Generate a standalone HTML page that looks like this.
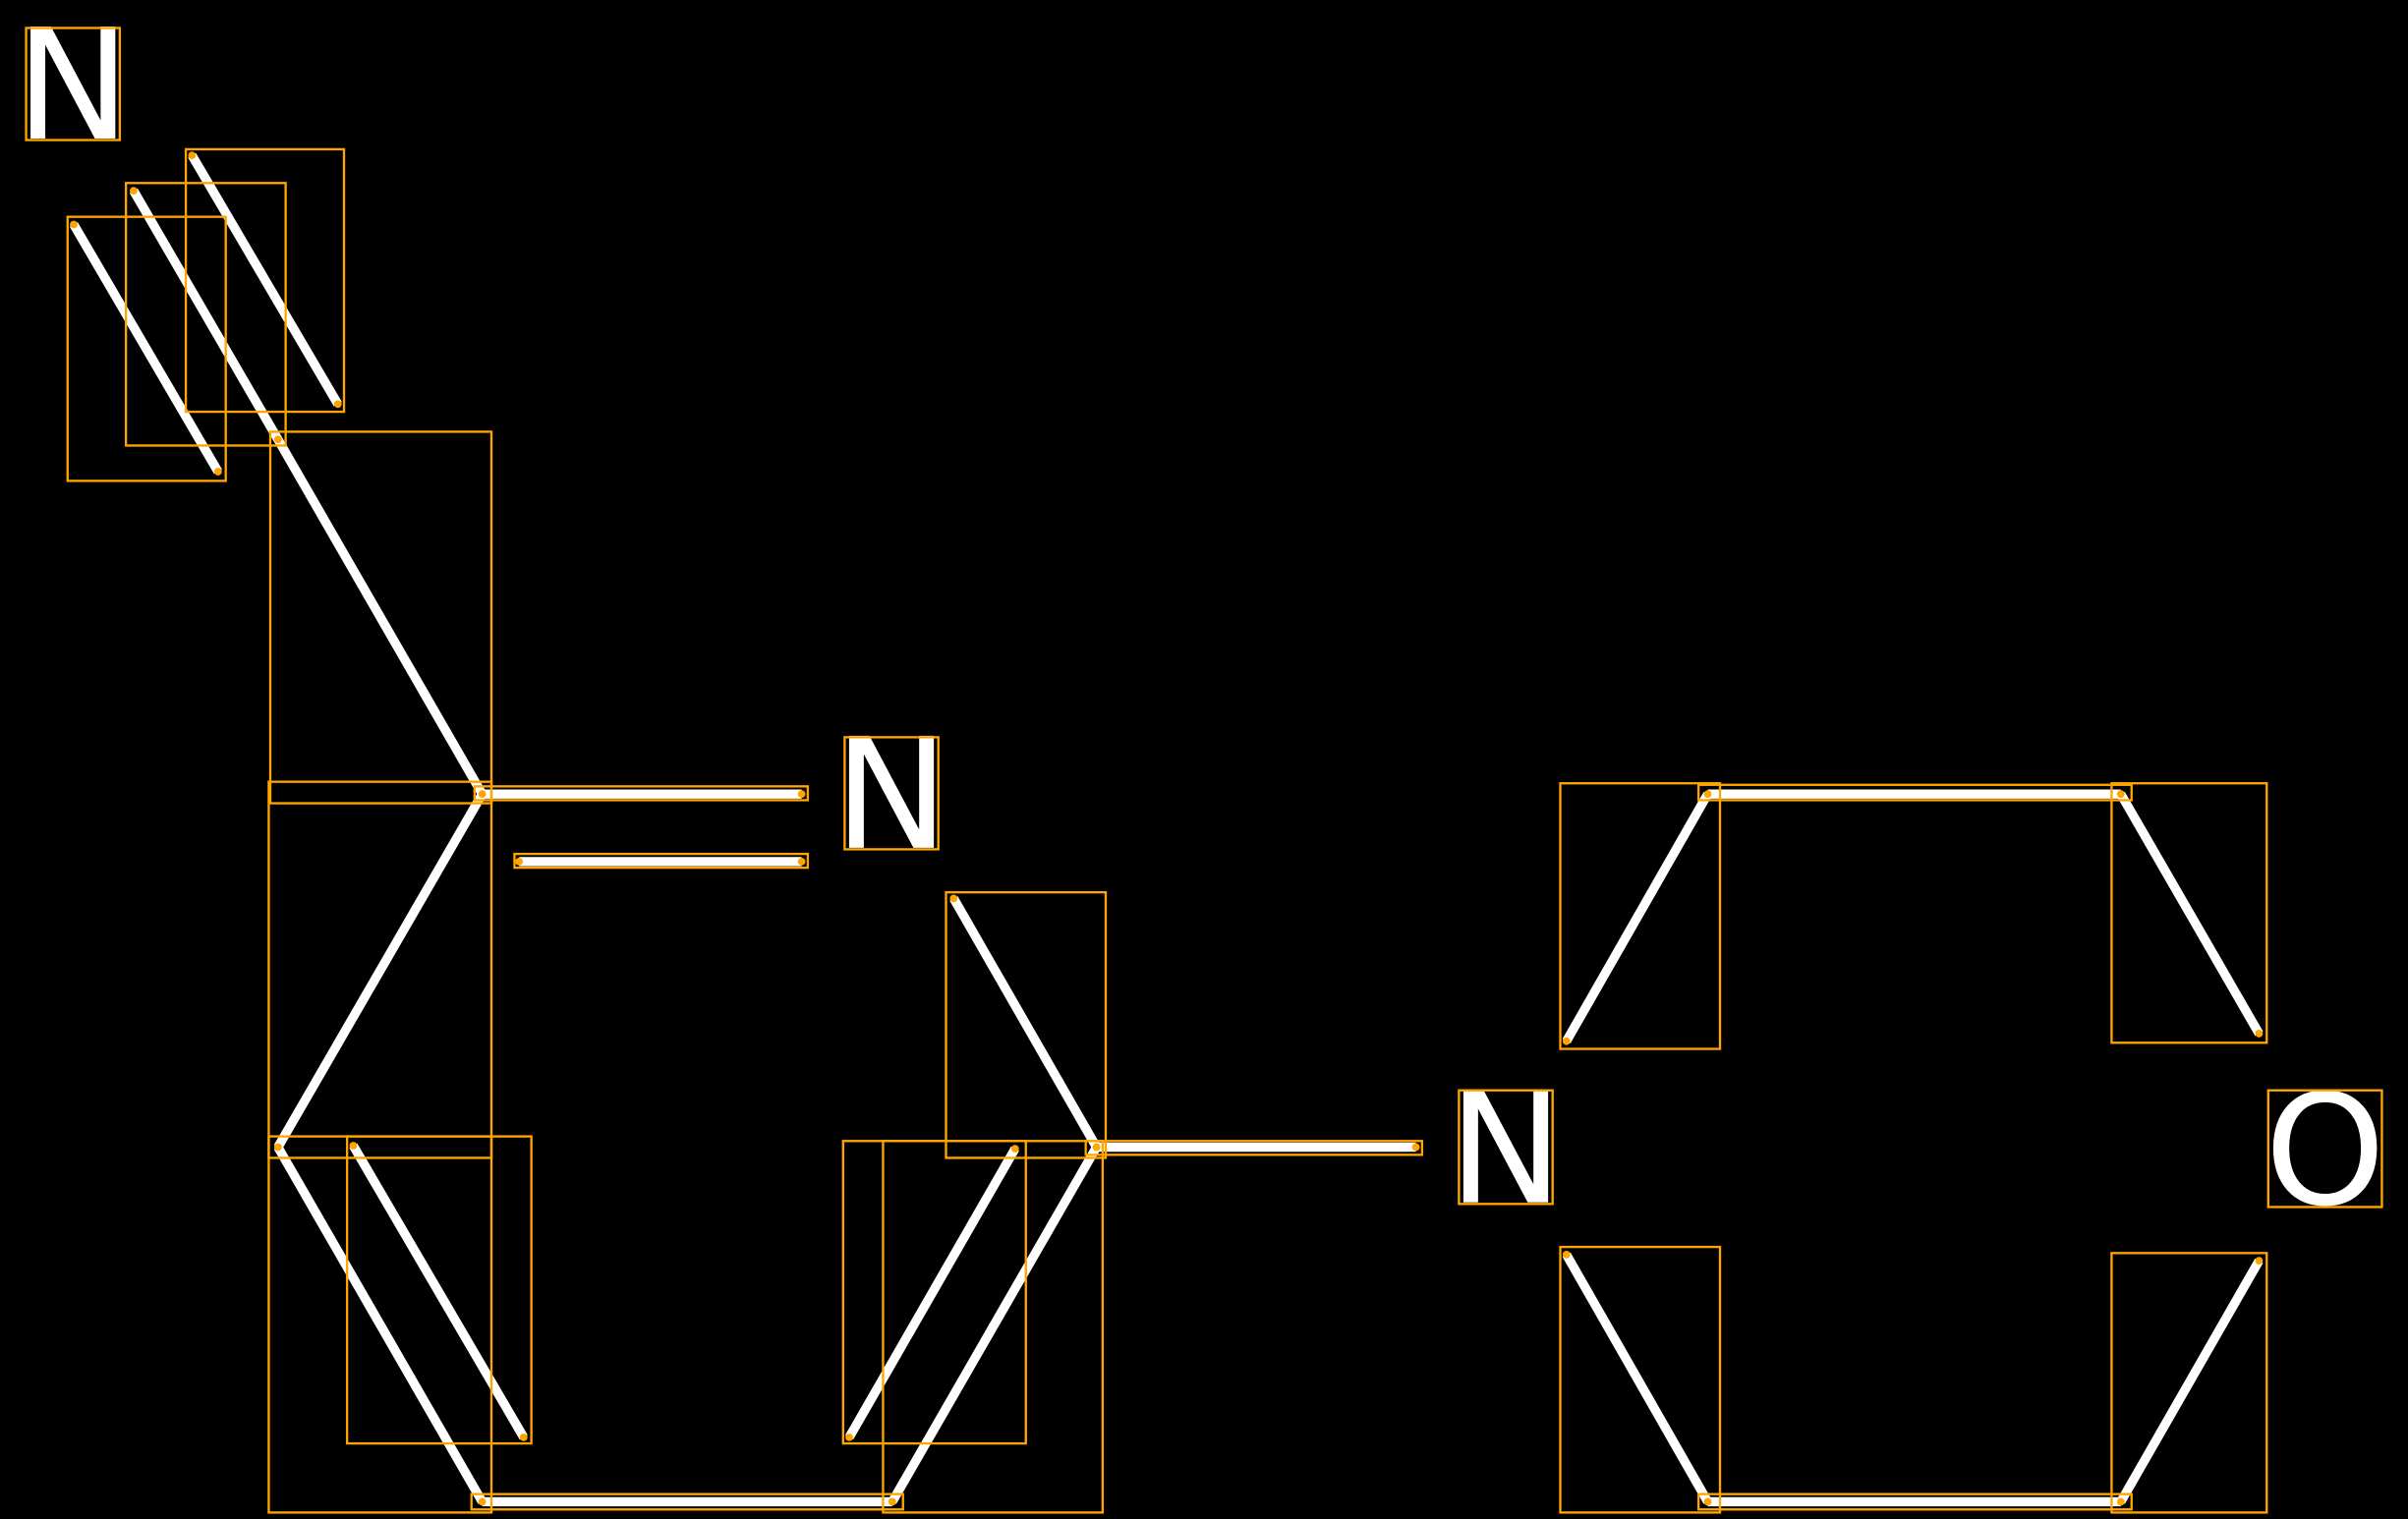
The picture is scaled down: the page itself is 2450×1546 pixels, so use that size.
<!DOCTYPE html>
<html><head><style>html,body{margin:0;padding:0;background:#000;}svg{display:block}</style></head>
<body>
<svg width="2450" height="1546" viewBox="0 0 1568 989" xmlns="http://www.w3.org/2000/svg">
<rect width="1568" height="989" fill="#000"/>
<g stroke="#fff" stroke-width="6" stroke-linecap="butt">
<line x1="48" y1="146" x2="142" y2="307"/>
<line x1="87" y1="124" x2="181" y2="286"/>
<line x1="125" y1="101" x2="220" y2="263"/>
<line x1="181" y1="286" x2="314" y2="517"/>
<line x1="314" y1="517" x2="522" y2="517"/>
<line x1="338" y1="561" x2="522" y2="561"/>
<line x1="314" y1="517" x2="181" y2="747"/>
<line x1="181" y1="747" x2="314" y2="978"/>
<line x1="230" y1="746" x2="341" y2="936"/>
<line x1="314" y1="978" x2="581" y2="978"/>
<line x1="581" y1="978" x2="714" y2="747"/>
<line x1="553" y1="936" x2="661" y2="748"/>
<line x1="714" y1="747" x2="621" y2="585"/>
<line x1="714" y1="747" x2="922" y2="747"/>
<line x1="1020" y1="678" x2="1112" y2="517"/>
<line x1="1112" y1="517" x2="1381" y2="517"/>
<line x1="1381" y1="517" x2="1471" y2="673"/>
<line x1="1020" y1="817" x2="1112" y2="978"/>
<line x1="1112" y1="978" x2="1381" y2="978"/>
<line x1="1381" y1="978" x2="1471" y2="821"/>
</g>
<g fill="#fff" font-family="'DejaVu Sans','Liberation Sans',sans-serif" font-size="100" text-anchor="middle">
<text x="47.5" y="90">N</text>
<text x="580.5" y="552">N</text>
<text x="980.5" y="783">N</text>
<text x="1514" y="784">O</text>
</g>
<g fill="none" stroke="#FFA500" stroke-width="1.5">
<rect x="17" y="18" width="61" height="73"/>
<rect x="550" y="480" width="61" height="73"/>
<rect x="950" y="710" width="61" height="74"/>
<rect x="1477" y="710" width="74" height="76"/>
<rect x="44" y="141" width="103" height="172"/>
<rect x="82" y="119" width="104" height="171"/>
<rect x="121" y="97" width="103" height="171"/>
<rect x="176" y="281" width="144" height="242"/>
<rect x="309" y="512" width="217" height="9"/>
<rect x="335" y="556" width="191" height="9"/>
<rect x="175" y="509" width="145" height="245"/>
<rect x="175" y="740" width="145" height="245"/>
<rect x="226" y="740" width="120" height="200"/>
<rect x="307" y="973" width="281" height="10"/>
<rect x="575" y="743" width="143" height="242"/>
<rect x="549" y="743" width="119" height="197"/>
<rect x="616" y="581" width="104" height="173"/>
<rect x="707" y="743" width="219" height="9"/>
<rect x="1016" y="510" width="104" height="173"/>
<rect x="1106" y="511" width="282" height="10"/>
<rect x="1375" y="510" width="101" height="169"/>
<rect x="1016" y="812" width="104" height="173"/>
<rect x="1106" y="973" width="282" height="10"/>
<rect x="1375" y="816" width="101" height="169"/>
</g>
<g fill="#FFA500">
<circle cx="48" cy="146" r="2.5"/><circle cx="142" cy="307" r="2.5"/>
<circle cx="87" cy="124" r="2.5"/><circle cx="181" cy="286" r="2.5"/>
<circle cx="125" cy="101" r="2.5"/><circle cx="220" cy="263" r="2.5"/>
<circle cx="314" cy="517" r="2.5"/><circle cx="522" cy="517" r="2.5"/>
<circle cx="338" cy="561" r="2.5"/><circle cx="522" cy="561" r="2.5"/>
<circle cx="181" cy="747" r="2.5"/><circle cx="230" cy="746" r="2.5"/><circle cx="341" cy="936" r="2.5"/>
<circle cx="314" cy="978" r="2.5"/><circle cx="581" cy="978" r="2.5"/>
<circle cx="553" cy="936" r="2.5"/><circle cx="661" cy="748" r="2.5"/>
<circle cx="714" cy="747" r="2.5"/><circle cx="621" cy="585" r="2.5"/><circle cx="922" cy="747" r="2.5"/>
<circle cx="1020" cy="678" r="2.5"/><circle cx="1112" cy="517" r="2.5"/><circle cx="1381" cy="517" r="2.5"/><circle cx="1471" cy="673" r="2.5"/>
<circle cx="1020" cy="817" r="2.5"/><circle cx="1112" cy="978" r="2.5"/><circle cx="1381" cy="978" r="2.5"/><circle cx="1471" cy="821" r="2.5"/>
</g>
</svg>
</body></html>
